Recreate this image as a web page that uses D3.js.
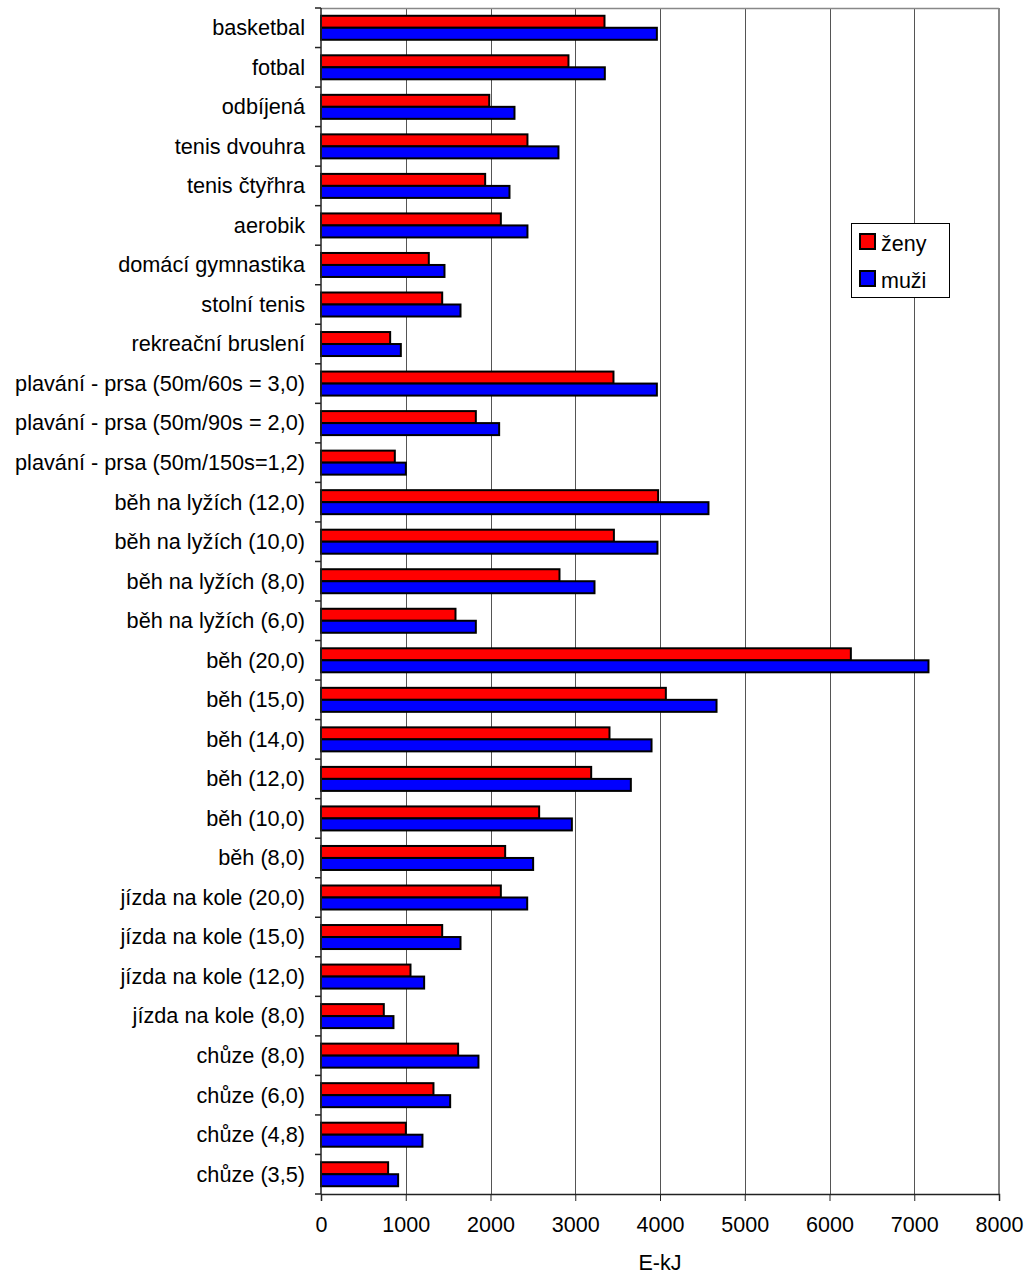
<!DOCTYPE html>
<html>
<head>
<meta charset="utf-8">
<script src="https://cdn.jsdelivr.net/npm/d3@7"></script>
<style>
  html, body { margin: 0; padding: 0; background: #fff; }
  svg { display: block; font-family: "Liberation Sans", Arial, sans-serif; }
</style>
</head>
<body>
<svg id="chart" width="1029" height="1277"></svg>
<script>
// Activities, listed top to bottom
const activities = [
  "basketbal", "fotbal", "odbíjená", "tenis dvouhra", "tenis čtyřhra", "aerobik",
  "domácí gymnastika", "stolní tenis", "rekreační bruslení",
  "plavání - prsa (50m/60s = 3,0)", "plavání - prsa (50m/90s = 2,0)", "plavání - prsa (50m/150s=1,2)",
  "běh na lyžích (12,0)", "běh na lyžích (10,0)", "běh na lyžích (8,0)", "běh na lyžích (6,0)",
  "běh (20,0)", "běh (15,0)", "běh (14,0)", "běh (12,0)", "běh (10,0)", "běh (8,0)",
  "jízda na kole (20,0)", "jízda na kole (15,0)", "jízda na kole (12,0)", "jízda na kole (8,0)",
  "chůze (8,0)", "chůze (6,0)", "chůze (4,8)", "chůze (3,5)"
];

// Energy expenditure, E-kJ
const zeny = [
  3345, 2920, 1985, 2436, 1937, 2122, 1272, 1430, 816,
  3451, 1827, 871,
  3978, 3456, 2814, 1587,
  6252, 4069, 3404, 3188, 2574, 2173,
  2122, 1430, 1056, 741,
  1618, 1327, 1001, 792
];
const muzi = [
  3963, 3349, 2283, 2802, 2224, 2436, 1457, 1646, 942,
  3963, 2102, 1001,
  4572, 3970, 3227, 1827,
  7168, 4667, 3900, 3656, 2960, 2503,
  2433, 1646, 1217, 855,
  1858, 1524, 1197, 910
];

const seriesNames = ["ženy", "muži"];
const seriesColors = ["#ff0000", "#0000ff"];
const xTicks = [0, 1000, 2000, 3000, 4000, 5000, 6000, 7000, 8000];
const xTitle = "E-kJ";

const svg = d3.select("#chart");
const plotLeft = 321, plotRight = 999, plotTop = 8, plotBottom = 1194;

const x = d3.scaleLinear().domain([0, 8000]).range([plotLeft, plotRight]);
const y = d3.scaleBand().domain(activities).range([plotTop, plotBottom]).paddingInner(0).paddingOuter(0);

const barH = 12;
const offset = (y.bandwidth() - 2 * barH) / 2;

// vertical gridlines
svg.append("g")
  .selectAll("line")
  .data(xTicks.filter(d => d > 0 && d < 8000))
  .join("line")
  .attr("x1", d => Math.round(x(d)) + 0.5)
  .attr("x2", d => Math.round(x(d)) + 0.5)
  .attr("y1", plotTop).attr("y2", plotBottom)
  .attr("stroke", "#555").attr("stroke-width", 1);

// plot frame: top and right in grey
svg.append("line")
  .attr("x1", plotLeft).attr("x2", plotRight).attr("y1", plotTop + 0.5).attr("y2", plotTop + 0.5)
  .attr("stroke", "#888").attr("stroke-width", 1.5);
svg.append("line")
  .attr("x1", plotRight).attr("x2", plotRight).attr("y1", plotTop).attr("y2", plotBottom)
  .attr("stroke", "#888").attr("stroke-width", 2);

// bars
const rows = activities.map((a, i) => ({ a, vals: [zeny[i], muzi[i]] }));
const g = svg.append("g");
rows.forEach(r => {
  r.vals.forEach((v, s) => {
    g.append("rect")
      .attr("x", x(0))
      .attr("y", y(r.a) + offset + s * barH)
      .attr("width", x(v) - x(0))
      .attr("height", barH)
      .attr("fill", seriesColors[s])
      .attr("stroke", "#000")
      .attr("stroke-width", 2);
  });
});

// x axis
const xAxis = svg.append("g")
  .attr("transform", `translate(0,${plotBottom})`)
  .call(d3.axisBottom(x).tickValues(xTicks).tickSize(7).tickPadding(16).tickFormat(d3.format("d")));
xAxis.select(".domain").attr("stroke", "#222").attr("stroke-width", 1.5);
xAxis.selectAll(".tick line").attr("stroke", "#222");
xAxis.selectAll("text").attr("font-size", 21.5).attr("fill", "#000")
  .attr("font-family", "'Liberation Sans', Arial, sans-serif");

// y axis with ticks on category boundaries
const yAxisG = svg.append("g").attr("transform", `translate(${plotLeft},0)`);
yAxisG.append("line")
  .attr("x1", 0).attr("x2", 0).attr("y1", plotTop).attr("y2", plotBottom)
  .attr("stroke", "#222").attr("stroke-width", 1.5);
const bounds = activities.map(a => y(a)).concat([plotBottom]);
yAxisG.selectAll("line.tk")
  .data(bounds)
  .join("line")
  .attr("class", "tk")
  .attr("x1", -6).attr("x2", 0)
  .attr("y1", d => d).attr("y2", d => d)
  .attr("stroke", "#222").attr("stroke-width", 1.5);
yAxisG.selectAll("text")
  .data(activities)
  .join("text")
  .attr("x", -16)
  .attr("y", d => y(d) + y.bandwidth() / 2)
  .attr("dy", "0.34em")
  .attr("text-anchor", "end")
  .attr("font-size", 21.7)
  .attr("fill", "#000")
  .text(d => d);

// axis title
svg.append("text")
  .attr("x", (plotLeft + plotRight) / 2)
  .attr("y", 1270)
  .attr("text-anchor", "middle")
  .attr("font-size", 21.5)
  .text(xTitle);

// legend
const lg = svg.append("g").attr("transform", "translate(851,223)");
lg.append("rect")
  .attr("x", 0.5).attr("y", 0.5).attr("width", 98).attr("height", 74)
  .attr("fill", "#fff").attr("stroke", "#000").attr("stroke-width", 1);
seriesNames.forEach((name, i) => {
  const yy = 11 + i * 37;
  lg.append("rect")
    .attr("x", 9).attr("y", yy).attr("width", 15).attr("height", 15)
    .attr("fill", seriesColors[i]).attr("stroke", "#000").attr("stroke-width", 2);
  lg.append("text")
    .attr("x", 30).attr("y", yy + 17)
    .attr("font-size", 21.5)
    .text(name);
});
</script>
</body>
</html>
